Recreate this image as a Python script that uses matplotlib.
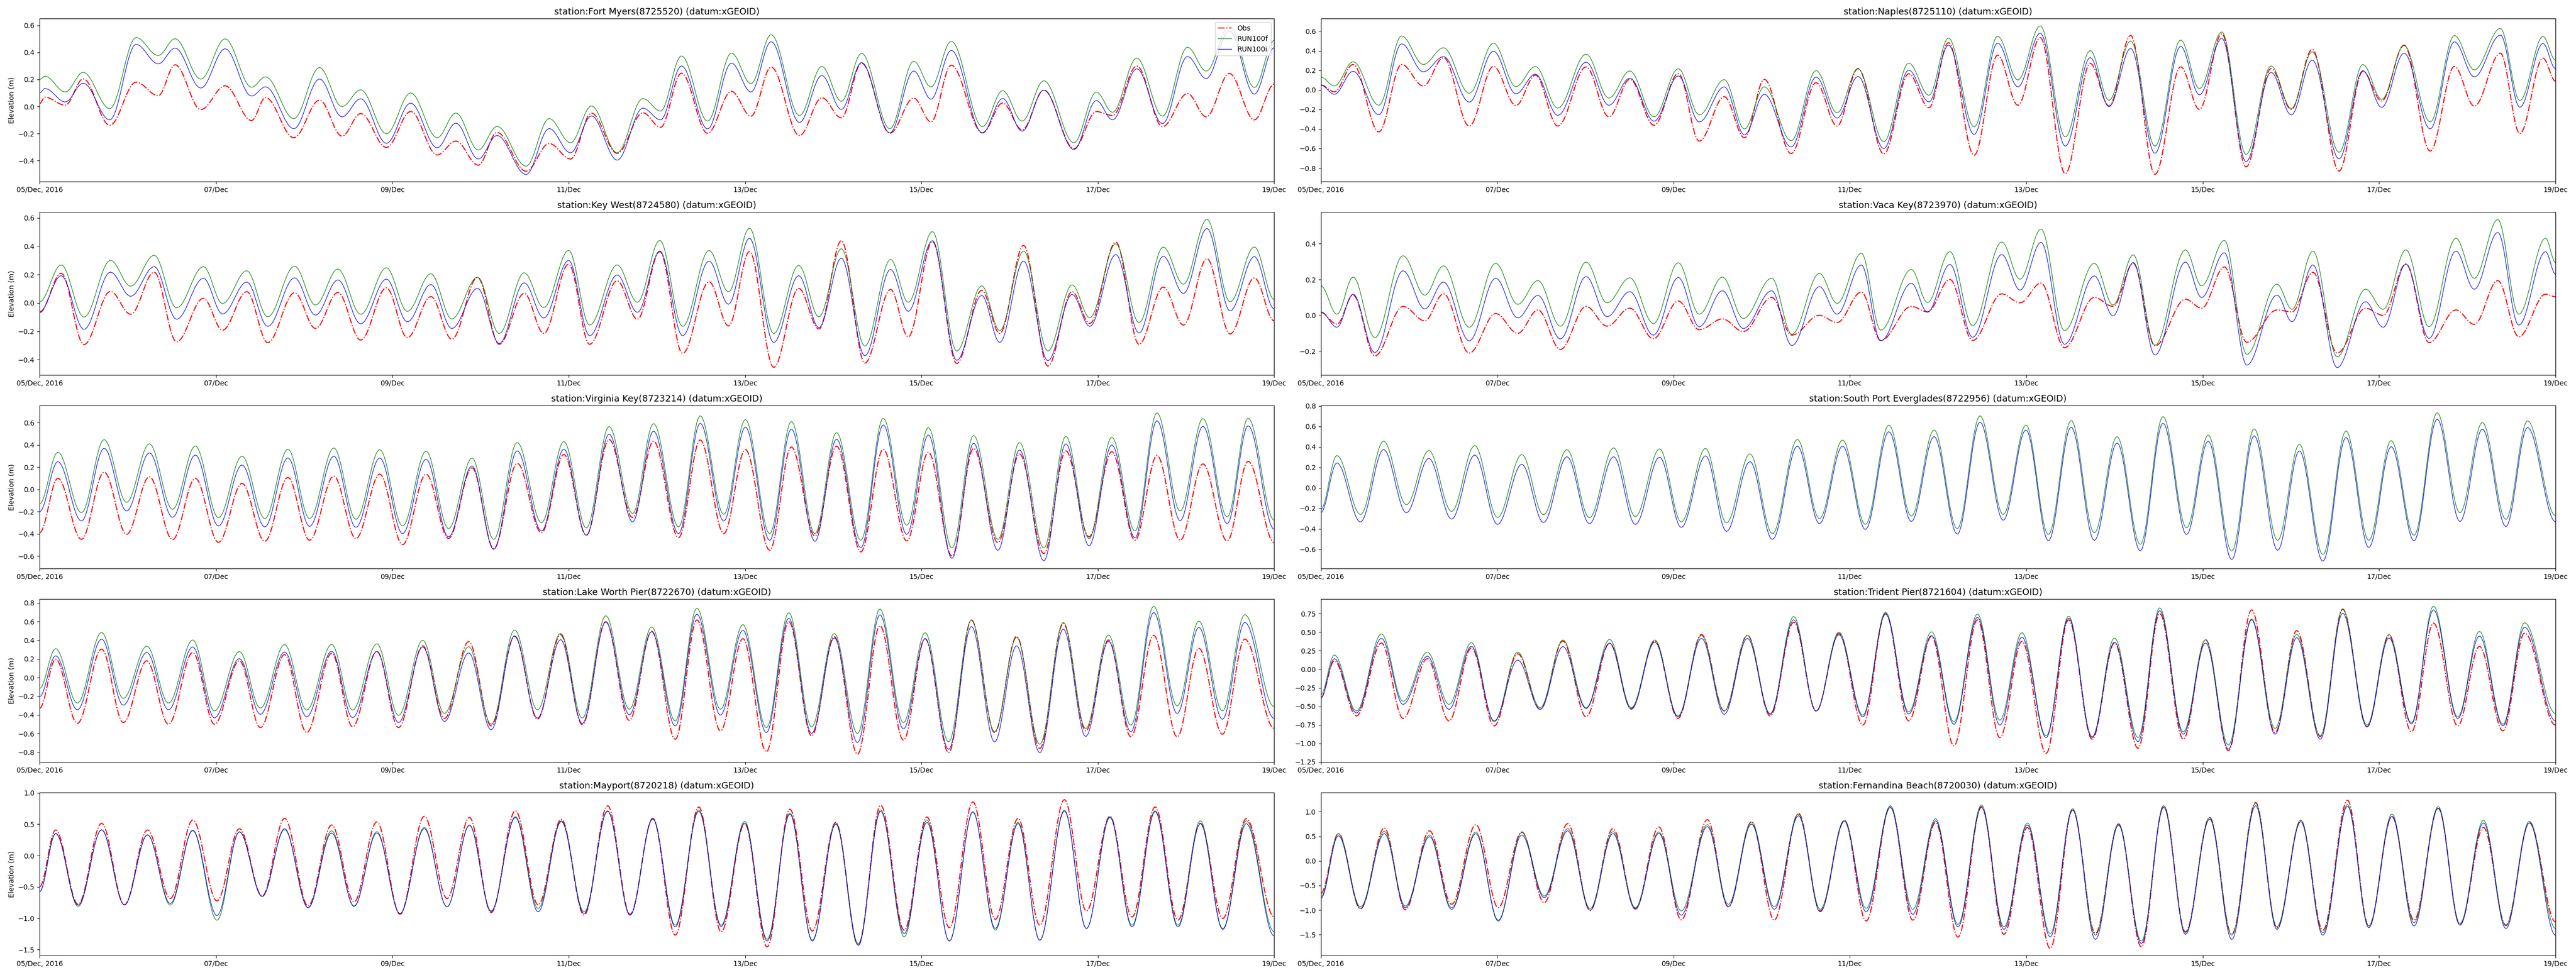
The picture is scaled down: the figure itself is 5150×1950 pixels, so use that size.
import datetime as dt
import matplotlib
matplotlib.use('Agg')
from matplotlib import pyplot as plt
import matplotlib.dates as mdates
from matplotlib.path import Path
from matplotlib.patches import PathPatch
from matplotlib.lines import Line2D
from matplotlib.ticker import MultipleLocator, FuncFormatter
import numpy as np

# high / low water: hours after 05/Dec/2016 00:00 and elevation (m)
fort_myers_t = [0, 1.5, 7.0, 11.9, 19.1, 26.3, 32.3, 36.9, 43.9, 50.5, 57.7, 61.5, 69.2, 76.2, 82.3, 87.4, 94.4, 101.0,
                108.2, 113.3, 119.4, 124.5, 132.4, 138.7, 144.5, 150.2, 157.2, 164.2, 169.0, 174.7, 181.8, 188.3, 193.6,
                199.1, 206.8, 212.9, 218.2, 223.7, 231.4, 237.9, 242.6, 248.1, 256.6, 262.1, 267.4, 273.3, 281.5, 287.6,
                292.0, 298.6, 305.6, 312.4, 317.5, 323.8, 330.6, 336.0]
fort_myers_obs = [0.022, 0.069, 0.01, 0.204, -0.138, 0.18, 0.08, 0.308, -0.022, 0.153, -0.103, 0.066, -0.23, 0.047,
                  -0.218, -0.052, -0.302, -0.037, -0.357, -0.255, -0.433, -0.191, -0.477, -0.273, -0.387, -0.049, -0.345,
                  -0.046, -0.153, 0.246, -0.197, 0.112, -0.071, 0.291, -0.214, 0.065, -0.083, 0.32, -0.197, 0.062, -0.113,
                  0.305, -0.194, 0.026, -0.172, 0.121, -0.31, -0.037, -0.066, 0.299, -0.148, 0.096, -0.076, 0.244, -0.098,
                  0.164]
fort_myers_f = [0.20, 0.223, 0.108, 0.252, -0.015, 0.509, 0.377, 0.500, 0.203, 0.499, 0.143, 0.219, -0.089, 0.287, 0.0,
                0.123, -0.2, 0.1, -0.23, -0.048, -0.32, -0.147, -0.44, -0.089, -0.267, 0.004, -0.341, 0.059, -0.033,
                0.373, -0.107, 0.394, 0.170, 0.53, -0.066, 0.296, 0.039, 0.392, -0.163, 0.334, 0.145, 0.482, -0.148,
                0.117, -0.107, 0.19, -0.267, 0.106, -0.042, 0.357, -0.07, 0.437, 0.262, 0.594, 0.141, 0.488]
fort_myers_i = [0.10, 0.133, 0.034, 0.172, -0.098, 0.459, 0.315, 0.431, 0.137, 0.426, 0.078, 0.145, -0.163, 0.203, -0.076,
                0.057, -0.271, 0.025, -0.304, -0.123, -0.387, -0.214, -0.501, -0.163, -0.341, -0.07, -0.395, -0.012,
                -0.098, 0.299, -0.165, 0.32, 0.108, 0.478, -0.117, 0.229, -0.021, 0.324, -0.194, 0.262, 0.055, 0.414,
                -0.194, 0.059, -0.181, 0.121, -0.317, 0.044, -0.098, 0.278, -0.126, 0.369, 0.207, 0.559, 0.092, 0.433]

naples_t = [0, 3.7, 8.8, 15.8, 22.0, 27.9, 33.4, 40.4, 47.0, 53.1, 58.4, 64.5, 72.2, 78.4, 84.1, 90.7, 97.3, 103.0, 109.8,
            115.3, 120.7, 128.0, 134.8, 140.5, 146.2, 153.2, 160.0, 165.5, 170.8, 177.8, 184.2, 189.7, 195.8, 202.6,
            209.4, 214.5, 220.4, 227.0, 234.0, 239.1, 245.2, 251.8, 258.6, 264.1, 269.8, 277.1, 283.6, 288.7, 294.8,
            301.9, 308.5, 313.9, 321.0, 326.3, 332.6, 336.0]
naples_obs = [0.05, -0.02, 0.26, -0.43, 0.26, 0.04, 0.33, -0.37, 0.24, -0.16, 0.15, -0.37, 0.235, -0.276, 0.107, -0.362,
              0.167, -0.524, -0.07, -0.49, 0.107, -0.652, 0.073, -0.37, 0.218, -0.655, 0.164, -0.183, 0.483, -0.669,
              0.355, -0.157, 0.534, -0.857, 0.27, -0.166, 0.556, -0.865, 0.235, -0.2, 0.573, -0.788, 0.218, -0.2, 0.415,
              -0.831, 0.188, -0.114, 0.457, -0.626, 0.239, -0.166, 0.375, -0.447, 0.324, 0.09]
naples_f = [0.13, 0.04, 0.287, -0.157, 0.551, 0.26, 0.43, -0.034, 0.478, 0.034, 0.239, -0.186, 0.365, -0.084, 0.193,
            -0.276, 0.215, -0.256, 0.104, -0.40, 0.03, -0.52, 0.196, -0.234, 0.215, -0.53, 0.273, -0.055, 0.529, -0.379,
            0.548, 0.102, 0.654, -0.481, 0.401, -0.106, 0.5, -0.575, 0.509, 0.014, 0.592, -0.66, 0.244, -0.191, 0.389,
            -0.638, 0.259, -0.097, 0.452, -0.328, 0.555, 0.205, 0.628, -0.109, 0.546, 0.304]
naples_i = [0.048, -0.045, 0.19, -0.255, 0.47, 0.185, 0.34, -0.125, 0.395, -0.04, 0.16, -0.26, 0.283, -0.157, 0.119,
            -0.32, 0.142, -0.328, 0.03, -0.46, -0.046, -0.584, 0.13, -0.288, 0.137, -0.6, 0.201, -0.123, 0.457, -0.456,
            0.478, 0.031, 0.58, -0.575, 0.329, -0.171, 0.423, -0.648, 0.444, -0.051, 0.526, -0.734, 0.179, -0.256,
            0.304, -0.706, 0.196, -0.179, 0.375, -0.399, 0.491, 0.133, 0.56, -0.177, 0.474, 0.218]

key_west_t = [0, 5.9, 12.1, 19.3, 24.8, 31.2, 37.3, 44.6, 49.8, 56.4, 62.1, 69.4, 75.1, 81.2, 87.4, 94.4, 100.1, 106.5,
              112.2, 119.2, 125.1, 131.9, 137.2, 144.0, 149.7, 157.2, 162.7, 168.8, 175.0, 182.2, 187.5, 193.2, 199.8,
              206.6, 212.1, 218.2, 224.6, 231.6, 236.4, 243.0, 249.6, 256.4, 261.3, 267.8, 274.4, 281.0, 285.8, 292.9,
              299.2, 305.8, 311.3, 317.7, 324.0, 330.6, 336.0]
key_west_obs = [-0.068, 0.208, -0.294, 0.081, -0.08, 0.216, -0.274, 0.032, -0.192, 0.079, -0.28, 0.071, -0.18, 0.073,
                -0.262, 0.106, -0.245, 0.044, -0.256, 0.179, -0.292, 0.067, -0.215, 0.273, -0.292, 0.155, -0.115, 0.361,
                -0.356, 0.149, -0.162, 0.361, -0.454, 0.102, -0.184, 0.438, -0.424, 0.094, -0.239, 0.432, -0.427, 0.088,
                -0.215, 0.405, -0.445, 0.079, -0.145, 0.428, -0.292, 0.111, -0.156, 0.311, -0.219, 0.176, -0.127]
key_west_f = [0.008, 0.267, -0.1, 0.299, 0.118, 0.335, -0.035, 0.255, -0.004, 0.226, -0.098, 0.258, -0.015, 0.238, -0.08,
              0.247, -0.059, 0.205, -0.113, 0.181, -0.215, 0.212, -0.033, 0.369, -0.156, 0.267, 0.005, 0.44, -0.165,
              0.369, 0.079, 0.526, -0.215, 0.264, -0.098, 0.381, -0.304, 0.306, 0.005, 0.502, -0.339, 0.12, -0.195,
              0.365, -0.339, 0.126, -0.104, 0.416, -0.139, 0.393, 0.132, 0.588, 0.008, 0.394, 0.024]
key_west_i = [-0.062, 0.191, -0.186, 0.216, 0.047, 0.255, -0.115, 0.173, -0.078, 0.146, -0.165, 0.176, -0.086, 0.161,
              -0.147, 0.167, -0.133, 0.129, -0.18, 0.102, -0.286, 0.141, -0.106, 0.299, -0.231, 0.196, -0.066, 0.365,
              -0.231, 0.294, -0.009, 0.455, -0.278, 0.191, -0.174, 0.314, -0.372, 0.235, -0.059, 0.438, -0.404, 0.052,
              -0.278, 0.294, -0.407, 0.059, -0.165, 0.34, -0.212, 0.328, 0.067, 0.524, -0.056, 0.326, -0.042]

vaca_key_t = [0, 4.4, 8.8, 14.7, 22.4, 28.3, 33.4, 40.4, 47.6, 53.6, 59.1, 65.2, 72.2, 77.9, 84.1, 90.5, 97.3, 103.0,
              109.3, 115.0, 122.7, 128.2, 135.7, 140.5, 147.1, 152.4, 160.7, 165.1, 171.2, 177.4, 185.3, 190.3, 196.0,
              202.4, 210.5, 215.6, 221.1, 227.0, 235.3, 239.7, 245.9, 252.0, 260.2, 264.3, 270.0, 276.6, 284.3, 289.1,
              295.3, 301.6, 308.9, 313.9, 320.3, 326.0, 333.3, 336.0]
vaca_key_obs = [0.016, -0.049, 0.113, -0.226, 0.05, -0.03, 0.12, -0.21, 0.01, -0.1, 0.03, -0.19, 0.05, -0.06, 0.04,
                -0.13, 0.08, -0.08, -0.02, -0.09, 0.1, -0.11, 0.0, -0.04, 0.13, -0.14, 0.05, 0.02, 0.2, -0.14, 0.12,
                0.07, 0.18, -0.18, 0.1, 0.05, 0.29, -0.17, 0.09, 0.04, 0.27, -0.15, 0.03, 0.02, 0.24, -0.21, 0.04, 0.0,
                0.286, -0.152, 0.03, -0.05, 0.194, -0.119, 0.118, 0.104]
vaca_key_f = [0.165, 0.007, 0.213, -0.124, 0.332, 0.113, 0.276, -0.066, 0.29, 0.062, 0.194, -0.06, 0.297, 0.07, 0.209,
              -0.045, 0.293, 0.007, 0.213, -0.017, 0.207, -0.105, 0.234, 0.067, 0.346, -0.082, 0.256, 0.072, 0.355,
              -0.057, 0.409, 0.202, 0.481, -0.085, 0.29, 0.058, 0.337, -0.166, 0.365, 0.165, 0.418, -0.217, 0.174,
              0.034, 0.358, -0.231, 0.146, 0.034, 0.365, -0.063, 0.43, 0.207, 0.534, 0.007, 0.43, 0.295]
vaca_key_i = [0.02, -0.066, 0.118, -0.207, 0.248, 0.036, 0.185, -0.142, 0.207, -0.014, 0.111, -0.131, 0.216, -0.007,
              0.132, -0.11, 0.211, -0.063, 0.137, -0.073, 0.137, -0.168, 0.16, 0.007, 0.281, -0.142, 0.179, 0.018,
              0.284, -0.122, 0.339, 0.141, 0.407, -0.161, 0.22, -0.003, 0.295, -0.221, 0.297, 0.1, 0.349, -0.277, 0.113,
              -0.035, 0.281, -0.291, 0.076, -0.066, 0.286, -0.128, 0.358, 0.146, 0.462, -0.054, 0.355, 0.23]

virginia_key_t = [0, 5.0, 11.4, 17.6, 23.7, 29.9, 36.2, 42.4, 48.7, 55.1, 61.3, 67.6, 73.5, 80.1, 86.1, 92.6, 98.8,
                  105.2, 111.3, 117.7, 123.6, 130.0, 136.6, 142.7, 148.8, 155.0, 161.4, 167.1, 173.9, 179.8, 186.2,
                  192.1, 198.7, 204.6, 211.0, 216.9, 223.5, 229.6, 236.0, 241.9, 248.3, 254.2, 260.8, 266.7, 273.3,
                  279.3, 285.6, 291.8, 298.1, 304.1, 310.4, 316.6, 323.2, 328.9, 336.0]
virginia_key_obs = [-0.389, 0.099, -0.448, 0.155, -0.403, 0.114, -0.451, 0.099, -0.475, 0.054, -0.466, 0.107, -0.456,
                    0.119, -0.441, 0.137, -0.496, 0.137, -0.441, 0.194, -0.531, 0.234, -0.389, 0.314, -0.411, 0.449,
                    -0.253, 0.434, -0.433, 0.444, -0.396, 0.358, -0.546, 0.381, -0.418, 0.389, -0.561, 0.361, -0.463,
                    0.334, -0.598, 0.369, -0.478, 0.319, -0.576, 0.346, -0.426, 0.339, -0.456, 0.304, -0.456, 0.229,
                    -0.463, 0.252, -0.478]
virginia_key_f = [-0.13, 0.334, -0.208, 0.447, -0.115, 0.41, -0.178, 0.39, -0.253, 0.298, -0.261, 0.361, -0.261, 0.372,
                  -0.268, 0.357, -0.328, 0.343, -0.351, 0.282, -0.448, 0.421, -0.298, 0.429, -0.346, 0.564, -0.216,
                  0.591, -0.336, 0.661, -0.223, 0.627, -0.396, 0.609, -0.396, 0.51, -0.456, 0.639, -0.321, 0.556,
                  -0.525, 0.484, -0.448, 0.421, -0.525, 0.477, -0.441, 0.469, -0.373, 0.687, -0.193, 0.636, -0.246,
                  0.639, -0.276]
virginia_key_i = [-0.2, 0.249, -0.283, 0.369, -0.193, 0.328, -0.25, 0.309, -0.328, 0.219, -0.336, 0.283, -0.331, 0.298,
                  -0.34, 0.282, -0.396, 0.271, -0.426, 0.211, -0.538, 0.346, -0.373, 0.361, -0.411, 0.496, -0.291,
                  0.523, -0.396, 0.594, -0.283, 0.559, -0.456, 0.541, -0.466, 0.451, -0.523, 0.579, -0.403, 0.489,
                  -0.618, 0.414, -0.546, 0.354, -0.64, 0.409, -0.505, 0.399, -0.433, 0.616, -0.28, 0.567, -0.306,
                  0.571, -0.358]

# no observations plotted for this station
south_port_t = [0, 4.4, 10.8, 17.1, 23.3, 29.4, 35.6, 41.9, 48.1, 54.7, 60.6, 67.0, 73.1, 79.7, 85.6, 92.2, 98.1, 104.7,
                110.4, 116.8, 122.9, 129.7, 135.7, 142.0, 148.2, 154.6, 160.7, 166.9, 173.2, 179.4, 185.7, 191.9, 198.0,
                204.2, 210.5, 216.7, 223.0, 229.2, 235.6, 241.5, 247.9, 254.0, 260.4, 266.3, 272.7, 279.0, 285.2, 291.3,
                297.5, 303.8, 310.0, 316.1, 322.5, 328.4, 336.0]
south_port_f = [-0.21, 0.314, -0.259, 0.454, -0.164, 0.363, -0.229, 0.411, -0.288, 0.324, -0.262, 0.371, -0.291, 0.389,
                -0.28, 0.379, -0.332, 0.384, -0.34, 0.33, -0.446, 0.47, -0.299, 0.465, -0.356, 0.611, -0.275, 0.563,
                -0.397, 0.701, -0.259, 0.611, -0.454, 0.655, -0.437, 0.498, -0.55, 0.693, -0.389, 0.514, -0.616, 0.574,
                -0.511, 0.424, -0.649, 0.554, -0.511, 0.46, -0.462, 0.73, -0.242, 0.636, -0.307, 0.652, -0.27]
south_port_i = [-0.242, 0.242, -0.332, 0.372, -0.242, 0.286, -0.304, 0.319, -0.356, 0.229, -0.337, 0.302, -0.348, 0.302,
                -0.356, 0.298, -0.385, 0.311, -0.424, 0.254, -0.502, 0.405, -0.348, 0.405, -0.405, 0.546, -0.327, 0.498,
                -0.45, 0.639, -0.315, 0.563, -0.515, 0.59, -0.511, 0.436, -0.613, 0.628, -0.454, 0.454, -0.698, 0.506,
                -0.608, 0.359, -0.714, 0.489, -0.58, 0.4, -0.515, 0.668, -0.327, 0.571, -0.376, 0.587, -0.33]

lake_worth_t = [0, 4.4, 10.3, 16.9, 22.8, 29.2, 35.1, 41.7, 47.6, 54.4, 60.1, 66.7, 72.7, 79.5, 85.2, 91.8, 97.7, 104.3,
                110.2, 116.8, 122.9, 129.3, 135.5, 141.8, 147.7, 154.1, 160.5, 166.6, 173.0, 178.9, 185.3, 191.4, 197.8,
                203.9, 210.1, 216.3, 222.6, 228.7, 235.1, 241.0, 247.4, 253.6, 259.9, 265.9, 272.2, 278.6, 284.7, 290.9,
                297.0, 303.2, 309.6, 315.5, 321.9, 328.0, 336.0]
lake_worth_obs = [-0.33, 0.196, -0.491, 0.304, -0.482, 0.179, -0.5, 0.268, -0.5, 0.179, -0.536, 0.245, -0.589, 0.259,
                  -0.527, 0.28, -0.536, 0.339, -0.438, 0.384, -0.518, 0.441, -0.446, 0.459, -0.505, 0.598, -0.459, 0.495,
                  -0.661, 0.616, -0.571, 0.416, -0.795, 0.598, -0.625, 0.438, -0.821, 0.554, -0.67, 0.416, -0.804, 0.616,
                  -0.589, 0.441, -0.759, 0.58, -0.571, 0.402, -0.634, 0.452, -0.634, 0.313, -0.607, 0.411, -0.545]
lake_worth_f = [-0.116, 0.309, -0.273, 0.482, -0.223, 0.336, -0.273, 0.402, -0.357, 0.277, -0.327, 0.352, -0.348, 0.354,
                -0.348, 0.361, -0.405, 0.398, -0.384, 0.33, -0.5, 0.509, -0.345, 0.473, -0.434, 0.661, -0.339, 0.541,
                -0.464, 0.741, -0.339, 0.566, -0.536, 0.693, -0.527, 0.47, -0.598, 0.732, -0.482, 0.479, -0.688, 0.616,
                -0.58, 0.429, -0.714, 0.589, -0.545, 0.455, -0.509, 0.762, -0.304, 0.604, -0.357, 0.673, -0.313]
lake_worth_i = [-0.205, 0.232, -0.345, 0.411, -0.295, 0.268, -0.345, 0.327, -0.432, 0.202, -0.393, 0.273, -0.42, 0.28,
                -0.429, 0.277, -0.482, 0.327, -0.47, 0.263, -0.559, 0.446, -0.434, 0.405, -0.491, 0.595, -0.398, 0.491,
                -0.518, 0.679, -0.402, 0.505, -0.589, 0.634, -0.598, 0.423, -0.696, 0.67, -0.55, 0.416, -0.768, 0.545,
                -0.688, 0.339, -0.804, 0.518, -0.63, 0.388, -0.58, 0.696, -0.384, 0.536, -0.446, 0.589, -0.438]

trident_t = [0, 3.7, 9.7, 16.5, 22.4, 29.0, 34.9, 41.0, 47.2, 53.6, 59.7, 65.9, 72.2, 78.6, 84.5, 90.9, 97.2, 103.6,
             109.8, 116.1, 122.3, 128.7, 134.8, 141.0, 147.5, 153.7, 160.0, 166.2, 172.3, 178.7, 184.8, 190.8, 197.4,
             203.5, 209.9, 216.0, 222.4, 228.3, 234.7, 240.8, 247.0, 253.3, 259.7, 265.6, 272.0, 278.1, 284.7, 290.7,
             296.8, 302.8, 309.4, 315.3, 321.7, 327.6, 336.0]
trident_obs = [-0.384, 0.112, -0.629, 0.353, -0.663, 0.141, -0.696, 0.286, -0.763, 0.208, -0.54, 0.379, -0.641, 0.348,
               -0.529, 0.379, -0.663, 0.469, -0.5625, 0.458, -0.629, 0.632, -0.5625, 0.482, -0.752, 0.75, -0.696, 0.442,
               -1.031, 0.665, -0.92, 0.375, -1.132, 0.665, -0.942, 0.353, -1.065, 0.75, -0.942, 0.397, -1.098, 0.799,
               -0.853, 0.52, -0.908, 0.81, -0.775, 0.453, -0.842, 0.621, -0.763, 0.308, -0.83, 0.487, -0.752]
trident_f = [-0.34, 0.192, -0.5625, 0.475, -0.43, 0.23, -0.473, 0.357, -0.708, 0.23, -0.518, 0.393, -0.518, 0.402,
             -0.518, 0.393, -0.629, 0.453, -0.5625, 0.453, -0.596, 0.71, -0.5625, 0.498, -0.618, 0.766, -0.574, 0.504,
             -0.708, 0.743, -0.685, 0.491, -0.897, 0.714, -0.908, 0.42, -0.92, 0.826, -0.842, 0.397, -1.02, 0.676,
             -0.797, 0.469, -0.897, 0.804, -0.752, 0.469, -0.719, 0.848, -0.641, 0.509, -0.741, 0.625, -0.596]
trident_i = [-0.384, 0.141, -0.589, 0.415, -0.473, 0.174, -0.54, 0.308, -0.696, 0.123, -0.54, 0.304, -0.529, 0.353,
             -0.54, 0.364, -0.641, 0.415, -0.607, 0.415, -0.607, 0.665, -0.5625, 0.464, -0.641, 0.743, -0.603, 0.453,
             -0.741, 0.699, -0.752, 0.431, -0.92, 0.688, -0.92, 0.364, -0.975, 0.788, -0.875, 0.353, -1.076, 0.665,
             -0.875, 0.424, -0.942, 0.754, -0.775, 0.42, -0.737, 0.799, -0.663, 0.446, -0.763, 0.565, -0.696]

mayport_t = [0, 4.4, 10.5, 16.9, 23.1, 29.4, 35.6, 41.7, 48.3, 54.4, 60.6, 66.7, 73.1, 79.5, 85.6, 91.8, 98.1, 104.7,
             110.9, 117.0, 122.9, 129.5, 135.7, 142.0, 148.2, 154.6, 160.7, 166.9, 173.0, 179.4, 185.5, 191.9, 198.0,
             204.2, 210.3, 216.7, 222.8, 228.9, 235.3, 241.5, 247.6, 254.0, 260.1, 266.3, 272.2, 278.9, 284.9, 291.3,
             297.3, 303.6, 309.8, 315.9, 322.0, 328.4, 336.0]
mayport_obs = [-0.497, 0.407, -0.777, 0.513, -0.785, 0.407, -0.684, 0.566, -0.723, 0.428, -0.644, 0.593, -0.803, 0.487,
               -0.737, 0.535, -0.936, 0.625, -0.684, 0.606, -0.91, 0.713, -0.785, 0.58, -0.949, 0.793, -0.936, 0.593,
               -1.269, 0.774, -1.215, 0.508, -1.455, 0.739, -1.202, 0.527, -1.428, 0.801, -1.189, 0.614, -1.149, 0.854,
               -1.016, 0.593, -1.109, 0.891, -0.883, 0.625, -0.979, 0.774, -1.029, 0.513, -1.003, 0.588, -0.976]
mayport_f = [-0.577, 0.354, -0.811, 0.412, -0.785, 0.332, -0.79, 0.394, -1.03, 0.38, -0.652, 0.412, -0.83, 0.394, -0.811,
             0.38, -0.928, 0.447, -0.816, 0.487, -0.896, 0.62, -0.843, 0.553, -0.896, 0.713, -0.949, 0.588, -1.109,
             0.726, -1.109, 0.545, -1.335, 0.678, -1.348, 0.519, -1.402, 0.726, -1.295, 0.566, -1.362, 0.699, -1.189,
             0.527, -1.348, 0.705, -1.162, 0.62, -1.109, 0.713, -1.109, 0.553, -1.162, 0.553, -1.215]
mayport_i = [-0.577, 0.348, -0.79, 0.407, -0.785, 0.327, -0.763, 0.402, -0.955, 0.375, -0.652, 0.428, -0.83, 0.359,
             -0.803, 0.359, -0.923, 0.428, -0.816, 0.481, -0.883, 0.606, -0.896, 0.54, -0.923, 0.705, -0.949, 0.58,
             -1.136, 0.705, -1.13, 0.519, -1.362, 0.66, -1.362, 0.5, -1.428, 0.705, -1.242, 0.527, -1.362, 0.694,
             -1.162, 0.508, -1.348, 0.721, -1.162, 0.606, -1.136, 0.699, -1.136, 0.508, -1.176, 0.508, -1.282]

fernandina_t = [0, 4.8, 10.8, 17.3, 23.0, 29.6, 35.6, 42.2, 48.3, 54.7, 60.8, 67.2, 73.3, 79.5, 85.6, 92.0, 98.1, 105.2,
                110.9, 117.2, 123.4, 130.0, 135.9, 142.5, 148.4, 155.0, 161.1, 167.3, 173.4, 179.8, 185.9, 192.3, 198.5,
                204.6, 210.8, 217.1, 223.3, 229.4, 235.3, 241.9, 247.9, 254.4, 260.2, 266.7, 272.7, 279.4, 285.2, 291.5,
                297.5, 304.1, 310.0, 316.4, 322.5, 328.9, 336.0]
fernandina_obs = [-0.662, 0.553, -0.974, 0.668, -0.994, 0.611, -0.882, 0.736, -0.95, 0.587, -0.848, 0.757, -1.008, 0.655,
                  -0.967, 0.689, -1.198, 0.838, -0.933, 0.791, -1.204, 0.967, -1.018, 0.814, -1.222, 1.103, -1.204, 0.78,
                  -1.551, 1.103, -1.493, 0.679, -1.781, 1.035, -1.476, 0.747, -1.747, 1.12, -1.442, 0.882, -1.493, 1.188,
                  -1.357, 0.814, -1.408, 1.232, -1.323, 0.899, -1.204, 1.069, -1.289, 0.679, -1.306, 0.78, -1.239]
fernandina_f = [-0.73, 0.553, -0.933, 0.6, -0.916, 0.526, -0.95, 0.587, -1.204, 0.577, -0.713, 0.655, -0.967, 0.594,
                -0.95, 0.587, -1.018, 0.736, -0.882, 0.791, -0.933, 0.95, -0.984, 0.831, -0.967, 1.12, -0.984, 0.858,
                -1.289, 1.137, -1.34, 0.77, -1.476, 1.062, -1.51, 0.757, -1.629, 1.12, -1.459, 0.882, -1.51, 1.171,
                -1.34, 0.831, -1.459, 1.144, -1.323, 0.95, -1.256, 1.103, -1.272, 0.825, -1.323, 0.804, -1.374]
fernandina_i = [-0.763, 0.509, -0.967, 0.553, -0.95, 0.492, -0.984, 0.553, -1.222, 0.526, -0.747, 0.611, -1.001, 0.553,
                -0.984, 0.56, -1.103, 0.696, -0.933, 0.747, -0.984, 0.916, -1.035, 0.804, -1.035, 1.086, -1.086, 0.814,
                -1.34, 1.086, -1.391, 0.73, -1.544, 1.035, -1.595, 0.723, -1.68, 1.086, -1.493, 0.848, -1.595, 1.12,
                -1.391, 0.797, -1.51, 1.11, -1.357, 0.906, -1.323, 1.069, -1.306, 0.77, -1.374, 0.77, -1.51]

station_names = ['Fort Myers(8725520)', 'Naples(8725110)', 'Key West(8724580)', 'Vaca Key(8723970)',
                 'Virginia Key(8723214)', 'South Port Everglades(8722956)', 'Lake Worth Pier(8722670)',
                 'Trident Pier(8721604)', 'Mayport(8720218)', 'Fernandina Beach(8720030)']
y_limits = [(-0.554, 0.649), (-0.939, 0.729), (-0.509, 0.64), (-0.333, 0.576), (-0.711, 0.754),
            (-0.787, 0.802), (-0.905, 0.841), (-1.2505, 0.946), (-1.593, 1.005), (-1.924, 1.391)]
y_steps = [0.2, 0.2, 0.2, 0.2, 0.2, 0.2, 0.2, 0.25, 0.5, 0.5]

START = dt.datetime(2016, 12, 5)
END = dt.datetime(2016, 12, 19)


def tide_path(hours, values, k=0.36):
    '''camino suave entre pleamares y bajamares (tangente horizontal en cada extremo)'''
    if len(hours) != len(values):
        raise ValueError('length mismatch %d %d' % (len(hours), len(values)))
    x = mdates.date2num(START) + np.asarray(hours, dtype=float) / 24.0
    y = np.asarray(values, dtype=float)
    verts = [(x[0], y[0])]
    codes = [Path.MOVETO]
    for j in range(1, len(x)):
        dx = x[j] - x[j - 1]
        verts += [(x[j - 1] + k * dx, y[j - 1]), (x[j] - k * dx, y[j]), (x[j], y[j])]
        codes += [Path.CURVE4] * 3
    return Path(verts, codes)


def fecha(v, pos):
    d = mdates.num2date(v)
    if d.day == 5:
        return d.strftime('%d/%b, %Y')
    return d.strftime('%d/%b')


if __name__ == "__main__":
    plt.rcParams['font.size'] = 10
    stations = [
        (fort_myers_t, fort_myers_obs, fort_myers_f, fort_myers_i),
        (naples_t, naples_obs, naples_f, naples_i),
        (key_west_t, key_west_obs, key_west_f, key_west_i),
        (vaca_key_t, vaca_key_obs, vaca_key_f, vaca_key_i),
        (virginia_key_t, virginia_key_obs, virginia_key_f, virginia_key_i),
        (south_port_t, None, south_port_f, south_port_i),
        (lake_worth_t, lake_worth_obs, lake_worth_f, lake_worth_i),
        (trident_t, trident_obs, trident_f, trident_i),
        (mayport_t, mayport_obs, mayport_f, mayport_i),
        (fernandina_t, fernandina_obs, fernandina_f, fernandina_i),
    ]

    fig, axs = plt.subplots(5, 2, figsize=(51.5, 19.5), dpi=100)
    fig.subplots_adjust(left=0.01534, right=0.99204, top=0.9809, bottom=0.0200, wspace=0.0377, hspace=0.187)

    for n, ax in enumerate(axs.flat):
        t, obs, run_f, run_i = stations[n]
        if obs is not None:
            ax.add_patch(PathPatch(tide_path(t, obs), fill=False, edgecolor='r', lw=1.5, linestyle='-.'))
        ax.add_patch(PathPatch(tide_path(t, run_f), fill=False, edgecolor='g', lw=0.8))
        ax.add_patch(PathPatch(tide_path(t, run_i), fill=False, edgecolor='b', lw=0.8))

        ax.set_xlim(mdates.date2num(START), mdates.date2num(END))
        ax.set_ylim(*y_limits[n])
        ax.yaxis.set_major_locator(MultipleLocator(y_steps[n]))
        ax.xaxis.set_major_locator(mdates.DayLocator(bymonthday=range(5, 20, 2)))
        ax.xaxis.set_major_formatter(FuncFormatter(fecha))
        ax.set_title('station:' + station_names[n] + ' (datum:xGEOID)', fontsize=13)
        if n % 2 == 0:
            ax.set_ylabel('Elevation (m)')

    handles = [Line2D([], [], color='r', lw=1.5, linestyle='-.'),
               Line2D([], [], color='g', lw=0.8),
               Line2D([], [], color='b', lw=0.8)]
    axs[0, 0].legend(handles, ['Obs', 'RUN100f', 'RUN100i'], loc='upper right')

    fig.savefig('out.png', dpi=100)
